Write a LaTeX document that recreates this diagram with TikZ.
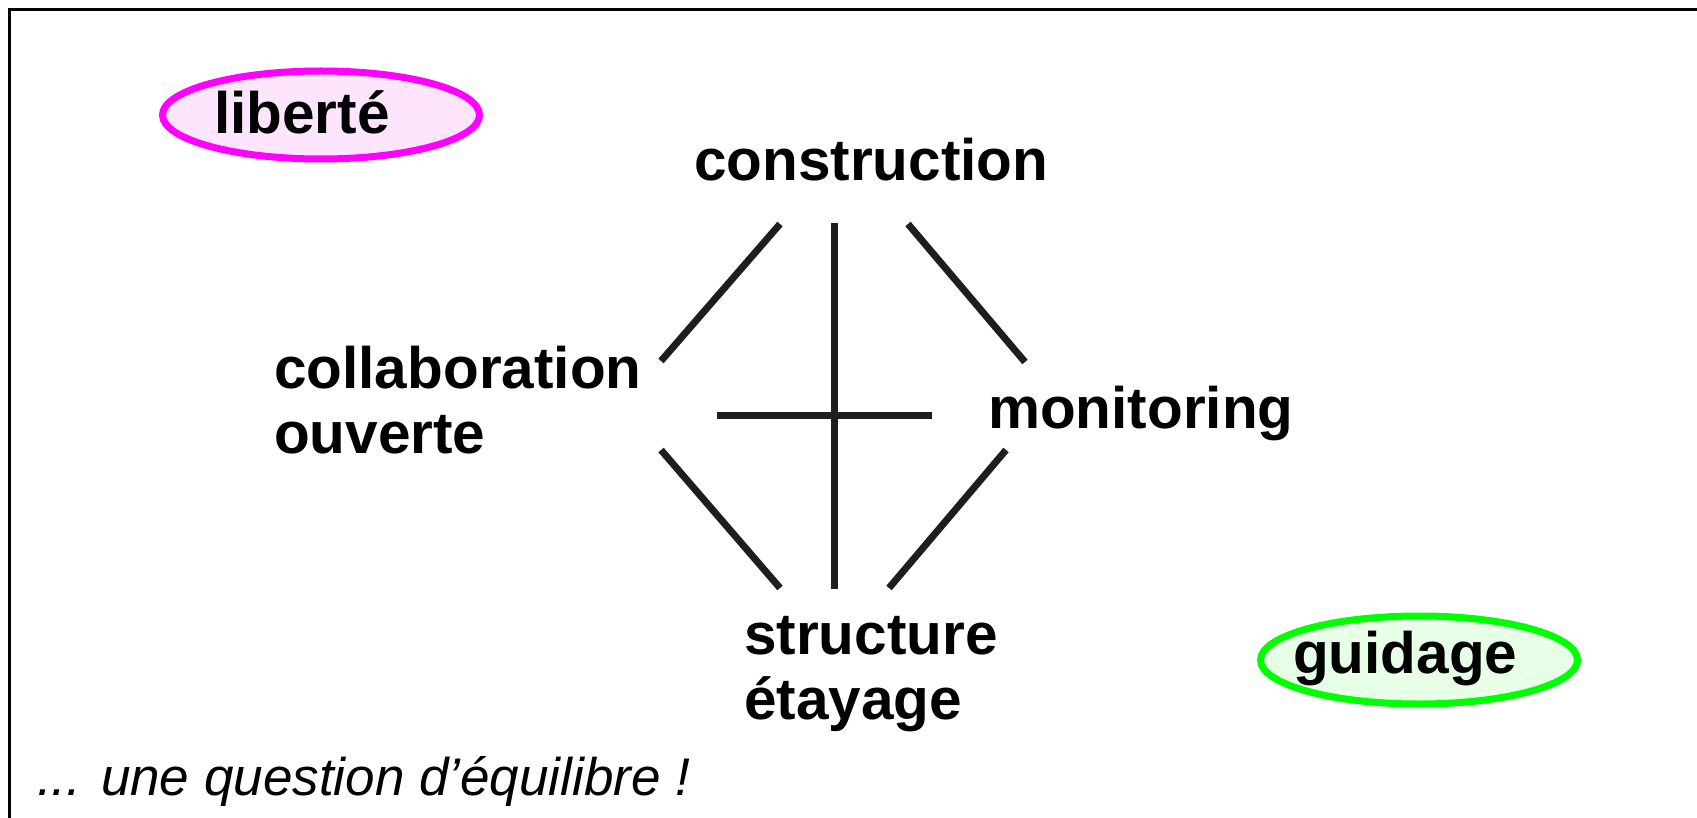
\documentclass[tikz,border=0pt]{standalone}
\usepackage{fontspec}
\setmainfont{Liberation Sans}
\usetikzlibrary{shapes.geometric}

\definecolor{barcol}{HTML}{1E1E1E}
\definecolor{libdraw}{HTML}{FF00FF}
\definecolor{libfill}{HTML}{FDE5FD}
\definecolor{guidraw}{HTML}{00FF00}
\definecolor{guifill}{HTML}{E6FFE6}

\tikzset{
  label/.style={inner sep=0pt, anchor=base west, align=left,
    font=\bfseries\fontsize{58.5}{65}\selectfont},
  bar/.style={draw=barcol, line width=7pt},
  pole/.style={ellipse, line width=7pt, minimum width=317pt, minimum height=88pt, inner sep=0pt},
  motto/.style={inner sep=0pt, anchor=base west, font=\itshape\fontsize{53}{53}\selectfont}
}

\begin{document}
\begin{tikzpicture}[x=1pt, y=-1pt]
  \useasboundingbox (0,0) rectangle (1697,818);

  % open frame: top and left edges
  \draw[line width=3pt, black] (1697,10) -- (9,10) -- (9,818);

  % the two poles
  \node[pole, draw=libdraw, fill=libfill] (liberte) at (321,115) {};
  \node[label] (liberteTxt) at (214,134) {liberté};
  \node[pole, draw=guidraw, fill=guifill] (guidage) at (1419,660) {};
  \node[label] (guidageTxt) at (1293,673) {guidage};

  % the four dimensions (multi-line labels sit on their last baseline)
  \node[label] (construction) at (694,181) {construction};
  \node[label] (collab) at (274,453) {collaboration\\ouverte};
  \node[label] (monitoring) at (988,428) {monitoring};
  \node[label] (structure) at (744,719) {structure\\étayage};

  % segment ends
  \coordinate (ulA) at (780,224); \coordinate (ulB) at (661,361);
  \coordinate (urA) at (908,224); \coordinate (urB) at (1025,362);
  \coordinate (llA) at (661,450); \coordinate (llB) at (780,588);
  \coordinate (lrA) at (1006,450); \coordinate (lrB) at (889,588);
  \coordinate (vT) at (834,223); \coordinate (vB) at (834,589);
  \coordinate (hL) at (717,415); \coordinate (hR) at (932,415);

  \draw[bar] (ulA) -- (ulB);
  \draw[bar] (urA) -- (urB);
  \draw[bar] (llA) -- (llB);
  \draw[bar] (lrA) -- (lrB);
  \draw[bar] (vT) -- (vB);
  \draw[bar] (hL) -- (hR);

  \node[motto] (motto) at (37,795) {... une question d’équilibre !};
\end{tikzpicture}
\end{document}
